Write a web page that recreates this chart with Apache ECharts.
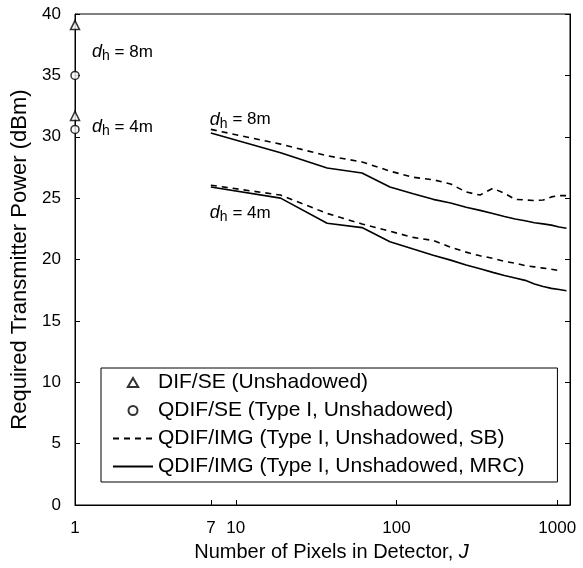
<!DOCTYPE html>
<html><head><meta charset="utf-8">
<script src="https://cdn.jsdelivr.net/npm/echarts@6/dist/echarts.min.js"></script>
<style>html,body{margin:0;padding:0;background:#fff}#c{width:583px;height:568px}</style>
</head><body><div id="c"></div>
<script>
// ---- data ----
const pixelsJ = [7,19,37,61,91,127,169,217,271,331,397,469,547,631,721,817,919,1027,1141];
const sb8  = [30.6,29.4,28.45,27.95,27.2,26.7,26.5,26.15,25.5,25.25,25.8,25.4,24.9,24.85,24.8,24.85,25.1,25.2,25.2];
const mrc8 = [30.3,28.7,27.45,27.05,25.9,25.35,24.9,24.6,24.25,24.0,23.75,23.5,23.3,23.15,23.0,22.9,22.8,22.65,22.55];
const sb4  = [26.05,25.25,23.75,22.9,22.3,21.8,21.55,21.0,20.6,20.3,20.1,19.85,19.7,19.5,19.4,19.3,19.2,19.1];
const mrc4 = [25.9,25.0,22.95,22.6,21.45,20.85,20.35,19.95,19.55,19.25,18.95,18.7,18.5,18.3,18.0,17.8,17.65,17.55,17.45];
const seJ = [1,1];
const difSE = [39.1,31.7];     // 8m, 4m
const qdifSE = [35.0,30.6];    // 8m, 4m
const xLabelValues = [1,7,10,100,1000];
const xTickValues = [7,10,100,1000];
const names = ['DIF/SE (Unshadowed)','QDIF/SE (Type I, Unshadowed)','QDIF/IMG (Type I, Unshadowed, SB)','QDIF/IMG (Type I, Unshadowed, MRC)'];
const annotations = [
  {J:1, v:36.9, dx:17, text:'8m'},
  {J:1, v:30.8, dx:17, text:'4m'},
  {J:7, v:31.4, dx:-1, text:'8m'},
  {J:7, v:23.8, dx:-1, text:'4m'}
];
// ---- chart ----
const FONT = '"Liberation Sans", Arial, Helvetica, sans-serif';
const chart = echarts.init(document.getElementById('c'), null, {renderer:'canvas'});
const pair = (xs, ys) => ys.map((y,i)=>[xs[i], y]);
const lineS = (name, data, dashed) => ({
  type:'line', name, data, symbol:'none', smooth:false, animation:false,
  lineStyle:{color:'#000', width:1.6, type: dashed ? [6,5] : 'solid'},
  itemStyle:{color:'#000'}
});
const TRI = 'path://M5,0L10,8.66L0,8.66Z';
chart.setOption({
  animation:false,
  textStyle:{fontFamily:FONT},
  grid:{left:75, right:13, top:14, bottom:63, show:true, borderColor:'#000', borderWidth:1},
  xAxis:{
    type:'log', logBase:10, min:1, max:1200,
    axisLine:{lineStyle:{color:'#000', width:1}},
    axisTick:{inside:true, length:5, lineStyle:{color:'#000'}, customValues:xTickValues},
    axisLabel:{color:'#000', fontSize:17, margin:15, customValues:xLabelValues, fontFamily:FONT,
      formatter:(v)=>String(Math.round(v))},
    minorTick:{show:false}, splitLine:{show:false},
    name:'{a|Number of Pixels in Detector, }{i|J}', nameLocation:'middle', nameGap:37,
    nameTextStyle:{padding:[0,0,0,18], rich:{a:{fontSize:20, color:'#000', fontFamily:FONT}, i:{fontSize:20, color:'#000', fontStyle:'italic', fontFamily:FONT}}}
  },
  yAxis:[{
    type:'value', min:0, max:40, interval:5,
    axisLine:{show:true, lineStyle:{color:'#000'}},
    axisTick:{inside:true, length:5, lineStyle:{color:'#000'}},
    axisLabel:{color:'#000', fontSize:17, margin:14, fontFamily:FONT},
    splitLine:{show:false},
    name:'Required Transmitter Power (dBm)', nameLocation:'middle', nameGap:27,
    nameTextStyle:{color:'#000', fontSize:22, fontFamily:FONT}
  },{
    type:'value', min:0, max:40, interval:5, position:'right',
    axisLine:{show:true, lineStyle:{color:'#000'}},
    axisTick:{inside:true, length:5, lineStyle:{color:'#000'}},
    axisLabel:{show:false}, splitLine:{show:false}
  }],
  legend:{
    orient:'vertical', left:101, top:368,
    data:[
      {name:names[0], icon:TRI},
      {name:names[1]},
      {name:names[2], itemStyle:{opacity:0}},
      {name:names[3], itemStyle:{opacity:0}}
    ],
    symbolKeepAspect:true,
    borderColor:'#000', borderWidth:1, padding:[4,33,5,11], itemGap:7,
    itemWidth:40, itemHeight:9,
    textStyle:{color:'#000', fontSize:21, fontFamily:FONT},
    selectedMode:false
  },
  series:[
    {type:'scatter', name:names[0], data:pair(seJ, difSE), symbol:'triangle', symbolSize:9, clip:false,
     itemStyle:{color:'#fff', borderColor:'#000', borderWidth:1.5}},
    {type:'scatter', name:names[1], data:pair(seJ, qdifSE), symbol:'circle', symbolSize:8, clip:false,
     itemStyle:{color:'#fff', borderColor:'#000', borderWidth:1.5}},
    lineS(names[2], pair(pixelsJ, sb8), true),
    lineS(names[3], pair(pixelsJ, mrc8), false),
    lineS(names[2], pair(pixelsJ, sb4), true),
    lineS(names[3], pair(pixelsJ, mrc4), false)
  ]
});
const rich = {
  d:{fontSize:18, fontStyle:'italic', fontFamily:FONT, fill:'#000'},
  h:{fontSize:14, fontFamily:FONT, fill:'#000', padding:[9,0,0,0]},
  t:{fontSize:17, fontFamily:FONT, fill:'#000'}
};
chart.setOption({
  graphic: annotations.map(a => {
    const p = chart.convertToPixel({xAxisIndex:0, yAxisIndex:0}, [a.J, a.v]);
    return {type:'text', x:p[0]+a.dx, y:p[1], silent:true,
      style:{text:'{d|d}{h|h}{t| = '+a.text+'}', rich, verticalAlign:'middle', align:'left', fill:'#000'}};
  })
});
</script></body></html>
